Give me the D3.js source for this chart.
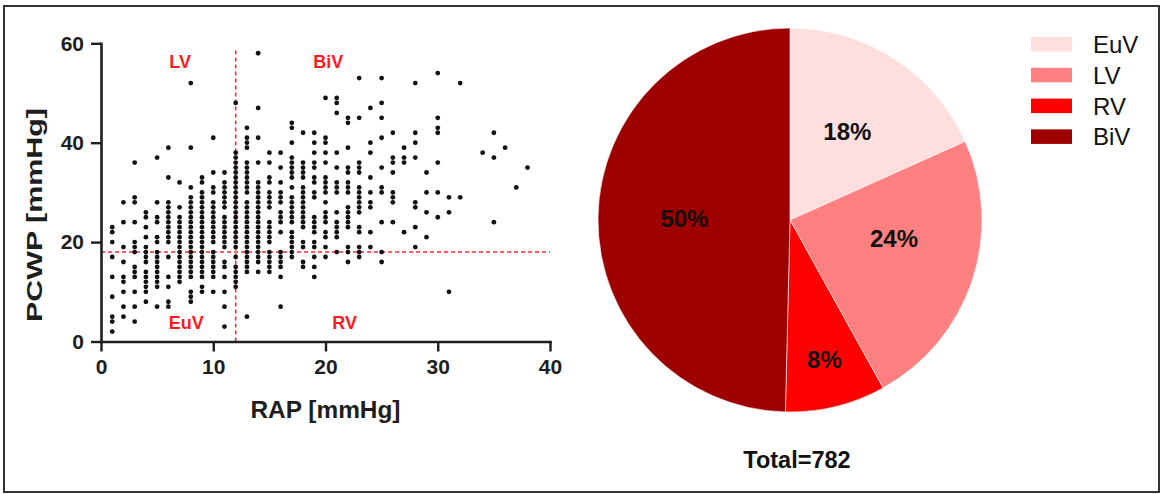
<!DOCTYPE html>
<html>
<head>
<meta charset="utf-8">
<script src="https://cdn.jsdelivr.net/npm/d3@7"></script>
<style>
  html, body { margin: 0; padding: 0; background: #fff; }
  svg { display: block; font-family: Arial, "Liberation Sans", sans-serif; }
</style>
</head>
<body>
<svg id="chart" width="1163" height="494"></svg>
<script>
// ---------------- DATA ----------------
const rapValues = [1,2,3,4,5,6,7,8,9,10,11,12,13,14,15,16,17,18,19,20,21,22,23,24,25,26,27,28,29,30,31,32,34,35,36,37,38];
const pcwpByRap = [
  [23,22,20,17,13,9,5,4,2],
  [28,24,19,16,13,12,10,7,5],
  [36,29,28,24,20,19,18,15,14,13,10,7,4],
  [26,25,23,21,19,18,17,16,14,13,12,11,10,8],
  [37,28,25,24,21,20,18,17,16,15,14,13,12,11,7],
  [39,33,28,27,26,25,24,23,22,21,20,17,13,11,8,7],
  [32,27,25,24,23,22,21,20,19,18,17,16,15,14,13,12],
  [52,39,31,29,28,27,26,25,24,23,22,21,20,19,18,17,16,15,14,13,10,9,8],
  [33,32,30,29,28,27,26,25,24,23,22,21,20,19,18,17,16,15,14,13,11,10],
  [41,34,31,30,28,27,26,25,24,23,22,21,20,18,17,16,15,14,13,10],
  [34,32,31,30,29,28,27,25,24,23,22,21,20,19,16,15,13,10,7,3],
  [48,38,37,36,35,34,33,32,31,30,29,28,27,26,25,24,23,22,21,20,19,17,15,14,13,12,11],
  [43,41,40,39,36,35,34,33,32,31,30,28,27,26,25,24,23,22,21,20,19,18,17,16,15,14,5],
  [58,47,41,36,32,31,30,29,28,27,26,25,24,23,22,21,20,19,18,17,16,14],
  [38,36,33,32,30,29,28,27,24,23,22,21,20,18,17,16,15,14],
  [38,35,32,30,29,28,26,25,24,22,18,17,16,15,13,7],
  [44,43,40,37,36,35,34,33,31,29,28,27,26,25,24,22,21,20,19,18,17],
  [42,36,35,34,33,31,30,29,28,27,26,25,24,23,20,19,16,15],
  [42,40,38,36,35,33,32,30,29,25,24,23,22,20,19,17,15,13],
  [49,41,40,38,36,33,32,31,30,28,26,25,24,22,21,19,17],
  [49,48,46,38,35,32,31,30,26,24,23,22,21,18],
  [45,44,39,35,34,32,31,30,27,26,25,24,23,19,18,16],
  [53,45,36,35,34,31,30,29,28,27,26,23,22,19,18,17],
  [47,40,38,33,30,28,27,22,19],
  [53,48,45,41,35,31,30,24,18,16],
  [42,37,36,34,30,29,28,24],
  [39,37,36,22],
  [52,42,40,37,28,27,23,19],
  [34,30,26,21],
  [54,45,43,42,36,30,25],
  [29,26,10],
  [52,29],
  [38],
  [42,37,24],
  [39],
  [31],
  [35]
];
const rapCutoff = 12;
const pcwpCutoff = 18;
const xTicks = [0,10,20,30,40];
const yTicks = [0,20,40,60];
const quadrantNames = ["LV","BiV","EuV","RV"];

const categories = ["EuV","LV","RV","BiV"];
const counts = [143,185,66,388];
const total = 782;
const sliceColors = ["#FFDEDE","#FF8080","#FF0000","#9E0000"];

// ---------------- DRAW ----------------
const svg = d3.select("#chart");
const ink = "#1e1e1e";

// outer frame
svg.append("rect")
  .attr("x", 4).attr("y", 6).attr("width", 1155).attr("height", 486)
  .attr("fill", "none").attr("stroke", "#333").attr("stroke-width", 2);

const x = d3.scaleLinear().domain([0,40]).range([101, 550]);
const y = d3.scaleLinear().domain([0,60]).range([341.5, 43.3]);

// threshold lines
const red = "#FF2A2A";
svg.append("line")
  .attr("x1", x(rapCutoff)).attr("x2", x(rapCutoff))
  .attr("y1", y(0)).attr("y2", y(59))
  .attr("stroke", red).attr("stroke-width", 1.6).attr("stroke-dasharray", "4,3");
svg.append("line")
  .attr("x1", x(0)).attr("x2", x(40))
  .attr("y1", y(pcwpCutoff)).attr("y2", y(pcwpCutoff))
  .attr("stroke", red).attr("stroke-width", 1.6).attr("stroke-dasharray", "4,3");

// points
const points = [];
rapValues.forEach((r, i) => pcwpByRap[i].forEach(p => points.push([r, p])));
svg.append("g").selectAll("circle").data(points).join("circle")
  .attr("cx", d => x(d[0])).attr("cy", d => y(d[1]))
  .attr("r", 2.4).attr("fill", "#111");

// axes
const xAxis = svg.append("g").attr("transform", `translate(0,${y(0)})`)
  .call(d3.axisBottom(x).tickValues(xTicks).tickSize(10).tickPadding(8).tickSizeOuter(0));
const yAxis = svg.append("g").attr("transform", `translate(${x(0)},0)`)
  .call(d3.axisLeft(y).tickValues(yTicks).tickSize(10).tickPadding(7).tickSizeOuter(0));
[xAxis, yAxis].forEach(g => {
  g.select(".domain").attr("stroke", ink).attr("stroke-width", 2.6).attr("stroke-linecap", "square");
  g.selectAll(".tick line").attr("stroke", ink).attr("stroke-width", 2.4);
  g.selectAll(".tick text").attr("fill", ink).attr("font-size", 21).attr("font-weight", "bold")
    .attr("font-family", "Arial, 'Liberation Sans', sans-serif");
});

// axis titles
svg.append("text")
  .attr("x", (x(0) + x(40)) / 2).attr("y", 418)
  .attr("text-anchor", "middle").attr("font-size", 23).attr("font-weight", "bold")
  .attr("fill", ink).attr("textLength", 150).attr("lengthAdjust", "spacingAndGlyphs")
  .text("RAP [mmHg]");
svg.append("text")
  .attr("transform", "translate(42,215) rotate(-90)")
  .attr("text-anchor", "middle").attr("font-size", 22).attr("font-weight", "bold")
  .attr("fill", ink).attr("textLength", 214).attr("lengthAdjust", "spacingAndGlyphs")
  .text("PCWP [mmHg]");

// quadrant labels
const qPos = { LV: [7.05, 56.4], BiV: [20.25, 56.4], EuV: [7.6, 3.8], RV: [21.7, 3.8] };
svg.append("g").selectAll("text").data(quadrantNames).join("text")
  .attr("x", d => x(qPos[d][0])).attr("y", d => y(qPos[d][1]))
  .attr("dy", "0.36em").attr("text-anchor", "middle")
  .attr("font-size", 18).attr("font-weight", "bold").attr("fill", "#FF1A1A")
  .text(d => d);

// pie
const cx = 790, cy = 220, R = 192;
const pieData = d3.pie().sort(null).value(d => d.v)(categories.map((c, i) => ({ c, v: counts[i], col: sliceColors[i] })));
const arc = d3.arc().innerRadius(0).outerRadius(R);
const pg = svg.append("g").attr("transform", `translate(${cx},${cy})`);
pg.selectAll("path").data(pieData).join("path")
  .attr("d", arc).attr("fill", d => d.data.col)
  .attr("stroke", "#fff").attr("stroke-width", 0.6);
pg.selectAll("text").data(pieData).join("text")
  .attr("transform", d => {
    const frac = d.data.v / total;
    const lr = frac < 0.1 ? 0.75 * R : 0.55 * R;
    const mid = frac > 0.2 && frac < 0.3 ? (d.startAngle * 0.6 + d.endAngle * 0.4) : (d.startAngle + d.endAngle) / 2;
    return `translate(${lr * Math.sin(mid)},${-lr * Math.cos(mid)})`;
  })
  .attr("text-anchor", "middle").attr("dy", "0.36em")
  .attr("font-size", 24).attr("font-weight", "bold").attr("fill", "#111")
  .text(d => Math.round(d.data.v / total * 100) + "%");

svg.append("text")
  .attr("x", 797).attr("y", 468).attr("text-anchor", "middle")
  .attr("font-size", 23.5).attr("font-weight", "bold").attr("fill", "#111")
  .text("Total=" + total);

// legend
const lg = svg.append("g").attr("transform", "translate(1031,37)");
const items = lg.selectAll("g").data(categories).join("g")
  .attr("transform", (d, i) => `translate(0,${i * 30.8})`);
items.append("rect").attr("width", 41).attr("height", 14.5)
  .attr("fill", (d, i) => sliceColors[i]);
items.append("text").attr("x", 62).attr("y", 16)
  .attr("font-size", 24).attr("fill", "#111")
  .text(d => d);
</script>
</body>
</html>
